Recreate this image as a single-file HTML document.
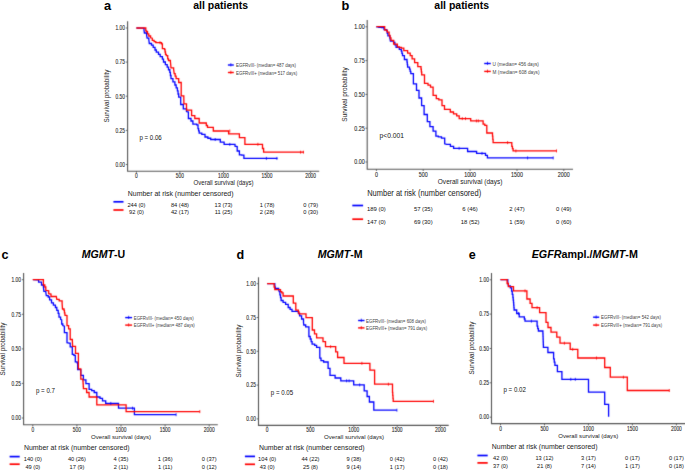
<!DOCTYPE html>
<html><head><meta charset="utf-8"><style>
html,body{margin:0;padding:0;background:#fff;width:685px;height:470px;overflow:hidden}
svg{display:block;font-family:"Liberation Sans", sans-serif}
</style></head><body>
<svg width="685" height="470" viewBox="0 0 685 470">
<defs><filter id="bl" x="0" y="0" width="1" height="1" color-interpolation-filters="sRGB"><feConvolveMatrix order="3" kernelMatrix="0.0133 0.0888 0.0133 0.0888 0.5917 0.0888 0.0133 0.0888 0.0133" edgeMode="duplicate" preserveAlpha="true"/></filter></defs>
<g filter="url(#bl)">
<rect width="685" height="470" fill="#fff"/>
<path d="M127.6,21.3 V171.3 H319.2" fill="none" stroke="#555" stroke-width="1.1"/>
<line x1="125.8" y1="164.5" x2="127.6" y2="164.5" stroke="#555" stroke-width="0.9"/>
<line x1="125.8" y1="130.4" x2="127.6" y2="130.4" stroke="#555" stroke-width="0.9"/>
<line x1="125.8" y1="96.2" x2="127.6" y2="96.2" stroke="#555" stroke-width="0.9"/>
<line x1="125.8" y1="62.1" x2="127.6" y2="62.1" stroke="#555" stroke-width="0.9"/>
<line x1="125.8" y1="28.0" x2="127.6" y2="28.0" stroke="#555" stroke-width="0.9"/>
<line x1="136.4" y1="171.3" x2="136.4" y2="173.10000000000002" stroke="#555" stroke-width="0.9"/>
<line x1="179.9" y1="171.3" x2="179.9" y2="173.10000000000002" stroke="#555" stroke-width="0.9"/>
<line x1="223.5" y1="171.3" x2="223.5" y2="173.10000000000002" stroke="#555" stroke-width="0.9"/>
<line x1="267.0" y1="171.3" x2="267.0" y2="173.10000000000002" stroke="#555" stroke-width="0.9"/>
<line x1="310.6" y1="171.3" x2="310.6" y2="173.10000000000002" stroke="#555" stroke-width="0.9"/>
<path d="M136.50,28.00 L140.90,28.20 L144.00,28.20 L144.00,30.30 L144.40,33.00 L146.60,33.00 L146.60,35.10 L147.10,38.20 L148.80,38.20 L148.80,39.50 L149.30,43.50 L151.50,43.50 L151.50,45.20 L153.20,45.20 L153.20,47.40 L155.00,47.40 L155.00,50.00 L156.30,50.00 L156.30,52.20 L158.50,52.20 L158.50,54.40 L160.20,54.40 L160.20,56.60 L162.40,56.60 L162.40,59.20 L163.50,59.20 L163.50,62.00 L165.35,62.00 L165.35,64.60 L167.20,64.60 L167.20,67.20 L168.50,67.20 L168.50,69.75 L169.80,69.75 L169.80,72.30 L170.40,72.30 L170.40,75.50 L171.00,75.50 L171.00,78.70 L172.95,78.70 L172.95,81.85 L174.90,81.85 L174.90,85.00 L176.15,85.00 L176.15,87.90 L177.40,87.90 L177.40,90.80 L178.05,90.80 L178.05,94.00 L178.70,94.00 L178.70,97.20 L180.70,97.20 L180.70,100.00 L180.70,104.50 L183.30,104.50 L183.30,105.70 L183.30,108.90 L186.50,108.90 L186.50,111.50 L188.40,112.10 L188.40,118.50 L191.00,118.50 L191.00,121.00 L192.90,121.00 L192.90,124.20 L196.70,124.20 L196.70,124.90 L198.00,124.90 L198.00,128.70 L198.60,128.70 L198.60,130.95 L199.20,130.95 L199.20,133.20 L201.80,133.20 L201.80,134.40 L205.00,134.40 L205.00,137.00 L207.85,137.00 L207.85,138.25 L210.70,138.25 L210.70,139.50 L216.50,139.50 L220.30,139.50 L220.30,142.10 L224.10,142.10 L224.10,144.40 L233.70,144.40 L235.00,144.40 L235.00,146.20 L237.20,146.60 L237.20,151.00 L239.40,151.00 L239.40,151.70 L239.40,154.80 L241.65,154.80 L241.65,155.15 L243.90,155.15 L243.90,155.50 L243.90,158.40 L277.50,158.40" fill="none" stroke="#0000ff" stroke-width="1.3" stroke-linejoin="miter"/>
<path d="M136.30,28.00 L142.70,28.00 L145.80,28.00 L145.80,30.80 L146.60,30.80 L146.60,31.60 L147.50,31.60 L147.50,33.80 L148.80,33.80 L148.80,36.00 L150.60,36.00 L150.60,37.80 L152.30,38.20 L152.30,40.40 L154.10,40.40 L154.10,41.70 L155.80,41.70 L155.80,42.60 L160.20,42.60 L161.50,42.60 L161.50,43.90 L162.40,43.90 L162.40,44.80 L162.40,48.70 L164.60,48.70 L164.60,49.60 L165.05,49.60 L165.05,52.00 L165.50,52.00 L165.50,54.40 L166.30,54.40 L166.30,55.70 L167.70,55.70 L167.70,58.80 L168.50,58.80 L168.50,60.50 L170.40,60.50 L170.40,61.50 L171.00,67.90 L173.60,67.90 L173.60,69.10 L174.20,73.60 L175.15,73.60 L175.15,76.15 L176.10,76.15 L176.10,78.70 L178.70,78.70 L178.70,82.50 L181.20,82.50 L181.20,83.20 L181.20,95.90 L183.80,95.90 L183.80,96.60 L183.90,103.80 L186.50,103.80 L186.50,110.20 L189.00,110.20 L191.60,110.20 L191.60,112.10 L191.60,115.60 L194.80,115.60 L194.80,118.50 L199.20,118.50 L199.20,123.00 L205.00,123.00 L206.30,123.00 L206.30,125.50 L207.50,125.50 L207.50,127.40 L213.30,127.40 L213.30,131.00 L228.60,131.00 L228.60,133.80 L239.40,133.80 L239.40,137.60 L244.90,137.60 L244.90,144.30 L262.50,144.30 L262.50,148.50 L263.60,148.50 L263.60,152.20 L304.00,152.20" fill="none" stroke="#ff0000" stroke-width="1.3" stroke-linejoin="miter"/>
<line x1="215.2" y1="138.0" x2="215.2" y2="141.0" stroke="#0000ff" stroke-width="0.8"/>
<line x1="229.8" y1="142.9" x2="229.8" y2="145.9" stroke="#0000ff" stroke-width="0.8"/>
<line x1="266.4" y1="156.9" x2="266.4" y2="159.9" stroke="#0000ff" stroke-width="0.8"/>
<line x1="276.9" y1="156.9" x2="276.9" y2="159.9" stroke="#0000ff" stroke-width="0.8"/>
<line x1="160" y1="41.1" x2="160" y2="44.1" stroke="#ff0000" stroke-width="0.8"/>
<line x1="229.8" y1="129.5" x2="229.8" y2="132.5" stroke="#ff0000" stroke-width="0.8"/>
<line x1="257.9" y1="142.8" x2="257.9" y2="145.8" stroke="#ff0000" stroke-width="0.8"/>
<line x1="300.6" y1="150.7" x2="300.6" y2="153.7" stroke="#ff0000" stroke-width="0.8"/>
<line x1="303.4" y1="150.7" x2="303.4" y2="153.7" stroke="#ff0000" stroke-width="0.8"/>
<line x1="227.9" y1="65.00" x2="233.8" y2="65.00" stroke="#0000ff" stroke-width="1.4"/>
<line x1="230.85000000000002" y1="63.20" x2="230.85000000000002" y2="66.40" stroke="#0000ff" stroke-width="0.8"/>
<line x1="227.9" y1="72.50" x2="233.8" y2="72.50" stroke="#ff0000" stroke-width="1.4"/>
<line x1="230.85000000000002" y1="70.70" x2="230.85000000000002" y2="73.90" stroke="#ff0000" stroke-width="0.8"/>
<line x1="113.4" y1="201.8" x2="123.5" y2="201.8" stroke="#0000ff" stroke-width="1.7"/>
<line x1="113.4" y1="210" x2="123.5" y2="210" stroke="#ff0000" stroke-width="1.7"/>
<path d="M367.2,20.1 V169.2 H573" fill="none" stroke="#555" stroke-width="1.1"/>
<line x1="365.4" y1="162.0" x2="367.2" y2="162.0" stroke="#555" stroke-width="0.9"/>
<line x1="365.4" y1="128.2" x2="367.2" y2="128.2" stroke="#555" stroke-width="0.9"/>
<line x1="365.4" y1="94.4" x2="367.2" y2="94.4" stroke="#555" stroke-width="0.9"/>
<line x1="365.4" y1="60.6" x2="367.2" y2="60.6" stroke="#555" stroke-width="0.9"/>
<line x1="365.4" y1="26.8" x2="367.2" y2="26.8" stroke="#555" stroke-width="0.9"/>
<line x1="376.4" y1="169.2" x2="376.4" y2="171.0" stroke="#555" stroke-width="0.9"/>
<line x1="423.2" y1="169.2" x2="423.2" y2="171.0" stroke="#555" stroke-width="0.9"/>
<line x1="470.1" y1="169.2" x2="470.1" y2="171.0" stroke="#555" stroke-width="0.9"/>
<line x1="517.0" y1="169.2" x2="517.0" y2="171.0" stroke="#555" stroke-width="0.9"/>
<line x1="563.8" y1="169.2" x2="563.8" y2="171.0" stroke="#555" stroke-width="0.9"/>
<path d="M376.20,26.80 L378.85,26.80 L378.85,27.25 L381.50,27.25 L381.50,27.70 L384.00,27.70 L384.00,29.60 L386.60,29.60 L386.60,30.80 L387.25,30.80 L387.25,33.35 L387.90,33.35 L387.90,35.90 L389.80,35.90 L389.80,37.90 L390.40,41.00 L393.60,41.00 L393.60,42.30 L394.85,42.30 L394.85,44.85 L396.10,44.85 L396.10,47.40 L399.30,47.40 L399.30,49.30 L401.30,49.30 L401.30,51.20 L401.90,51.20 L401.90,53.45 L402.50,53.45 L402.50,55.70 L404.40,55.70 L404.40,59.50 L407.00,59.50 L407.00,62.10 L407.30,62.10 L407.30,64.65 L407.60,64.65 L407.60,67.20 L409.50,67.20 L409.50,69.10 L410.15,69.10 L410.15,71.35 L410.80,71.35 L410.80,73.60 L413.40,73.60 L413.40,74.80 L413.40,83.90 L416.50,83.90 L416.50,84.60 L416.50,90.30 L419.00,90.30 L419.00,91.60 L419.00,98.00 L421.60,98.00 L421.60,99.20 L421.60,105.60 L424.10,105.60 L424.10,106.90 L424.10,114.50 L427.30,114.50 L427.30,121.60 L429.90,121.60 L429.90,126.70 L433.10,126.70 L433.10,131.10 L435.90,131.10 L435.90,131.80 L435.90,136.10 L438.30,136.10 L438.30,136.80 L441.50,136.80 L441.50,138.10 L444.70,138.10 L444.70,139.30 L444.70,143.80 L446.60,144.40 L450.40,144.40 L450.40,146.40 L453.60,146.40 L453.60,148.30 L463.80,148.30 L467.60,148.30 L467.60,151.50 L475.30,151.50 L476.60,151.50 L476.60,153.40 L483.60,153.40 L485.50,153.40 L485.50,155.30 L487.40,155.30 L487.40,157.90 L553.20,157.90" fill="none" stroke="#0000ff" stroke-width="1.3" stroke-linejoin="miter"/>
<path d="M376.40,26.60 L383.40,26.60 L384.70,26.60 L384.70,30.20 L387.20,30.20 L387.20,32.10 L389.10,32.10 L389.10,35.30 L390.05,35.30 L390.05,37.85 L391.00,37.85 L391.00,40.40 L393.60,40.40 L393.60,44.20 L397.40,44.20 L397.40,46.80 L399.35,46.80 L399.35,47.45 L401.30,47.45 L401.30,48.10 L403.80,48.10 L403.80,50.60 L407.60,50.60 L407.60,53.20 L410.20,53.20 L410.20,55.70 L412.10,55.70 L412.10,58.90 L414.60,58.90 L414.60,62.70 L417.80,62.70 L417.80,66.60 L421.00,66.60 L421.00,69.10 L421.35,69.10 L421.35,71.95 L421.70,71.95 L421.70,74.80 L424.50,74.80 L424.50,76.10 L424.50,83.30 L428.00,83.30 L428.00,85.20 L430.50,85.20 L430.50,87.10 L433.10,87.10 L433.10,88.40 L433.10,95.40 L436.30,95.40 L436.30,98.60 L438.80,98.60 L438.80,99.90 L442.00,99.90 L442.00,101.10 L442.00,105.60 L444.50,105.60 L444.50,109.40 L449.60,109.40 L450.30,109.40 L450.30,112.00 L453.50,112.00 L453.50,113.90 L456.70,113.90 L456.70,115.80 L459.20,115.80 L459.20,118.60 L470.00,118.60 L470.70,118.60 L470.70,120.90 L481.50,120.90 L483.10,120.90 L483.10,124.10 L484.80,124.10 L484.80,125.30 L486.80,125.30 L486.80,127.20 L486.80,133.00 L491.20,133.00 L492.50,133.00 L492.50,136.10 L492.80,136.10 L492.80,139.35 L493.10,139.35 L493.10,142.60 L511.80,142.60 L511.80,146.30 L512.45,146.30 L512.45,148.60 L513.10,148.60 L513.10,150.90 L556.50,150.90" fill="none" stroke="#ff0000" stroke-width="1.3" stroke-linejoin="miter"/>
<line x1="459.1" y1="146.8" x2="459.1" y2="149.8" stroke="#0000ff" stroke-width="0.8"/>
<line x1="482" y1="151.9" x2="482" y2="154.9" stroke="#0000ff" stroke-width="0.8"/>
<line x1="527.6" y1="156.4" x2="527.6" y2="159.4" stroke="#0000ff" stroke-width="0.8"/>
<line x1="553.2" y1="156.4" x2="553.2" y2="159.4" stroke="#0000ff" stroke-width="0.8"/>
<line x1="462.3" y1="117.1" x2="462.3" y2="120.1" stroke="#ff0000" stroke-width="0.8"/>
<line x1="465.5" y1="117.1" x2="465.5" y2="120.1" stroke="#ff0000" stroke-width="0.8"/>
<line x1="476.4" y1="119.4" x2="476.4" y2="122.4" stroke="#ff0000" stroke-width="0.8"/>
<line x1="478.3" y1="119.4" x2="478.3" y2="122.4" stroke="#ff0000" stroke-width="0.8"/>
<line x1="507.6" y1="141.1" x2="507.6" y2="144.1" stroke="#ff0000" stroke-width="0.8"/>
<line x1="515.9" y1="149.4" x2="515.9" y2="152.4" stroke="#ff0000" stroke-width="0.8"/>
<line x1="556.5" y1="149.4" x2="556.5" y2="152.4" stroke="#ff0000" stroke-width="0.8"/>
<line x1="484.2" y1="63.50" x2="490.8" y2="63.50" stroke="#0000ff" stroke-width="1.4"/>
<line x1="487.5" y1="61.70" x2="487.5" y2="64.90" stroke="#0000ff" stroke-width="0.8"/>
<line x1="484.2" y1="71.40" x2="490.8" y2="71.40" stroke="#ff0000" stroke-width="1.4"/>
<line x1="487.5" y1="69.60" x2="487.5" y2="72.80" stroke="#ff0000" stroke-width="0.8"/>
<line x1="352.3" y1="205.5" x2="363.1" y2="205.5" stroke="#0000ff" stroke-width="1.7"/>
<line x1="352.3" y1="219.2" x2="363.1" y2="219.2" stroke="#ff0000" stroke-width="1.7"/>
<path d="M23.6,273 V424.8 H217.8" fill="none" stroke="#555" stroke-width="1.1"/>
<line x1="21.8" y1="418.0" x2="23.6" y2="418.0" stroke="#555" stroke-width="0.9"/>
<line x1="21.8" y1="383.4" x2="23.6" y2="383.4" stroke="#555" stroke-width="0.9"/>
<line x1="21.8" y1="348.9" x2="23.6" y2="348.9" stroke="#555" stroke-width="0.9"/>
<line x1="21.8" y1="314.3" x2="23.6" y2="314.3" stroke="#555" stroke-width="0.9"/>
<line x1="21.8" y1="279.7" x2="23.6" y2="279.7" stroke="#555" stroke-width="0.9"/>
<line x1="32.8" y1="424.8" x2="32.8" y2="426.6" stroke="#555" stroke-width="0.9"/>
<line x1="76.9" y1="424.8" x2="76.9" y2="426.6" stroke="#555" stroke-width="0.9"/>
<line x1="121.0" y1="424.8" x2="121.0" y2="426.6" stroke="#555" stroke-width="0.9"/>
<line x1="165.1" y1="424.8" x2="165.1" y2="426.6" stroke="#555" stroke-width="0.9"/>
<line x1="209.2" y1="424.8" x2="209.2" y2="426.6" stroke="#555" stroke-width="0.9"/>
<path d="M32.90,279.70 L36.70,279.80 L38.60,279.80 L38.60,282.20 L41.50,282.20 L41.50,285.00 L43.40,285.00 L43.40,287.00 L43.90,291.30 L45.80,291.30 L45.80,292.20 L46.30,295.60 L48.20,295.60 L48.20,297.00 L49.60,297.00 L49.60,299.90 L51.50,299.90 L51.50,302.80 L53.40,302.80 L53.40,305.10 L55.40,305.10 L55.40,307.50 L56.80,307.50 L56.80,310.40 L58.20,310.40 L58.20,313.30 L59.00,313.30 L59.00,315.00 L59.00,317.10 L60.60,317.10 L60.60,319.30 L61.70,319.80 L61.70,324.00 L62.80,324.00 L62.80,325.60 L64.40,326.20 L64.40,332.60 L67.00,332.60 L67.00,333.60 L67.00,342.70 L69.10,343.20 L70.20,343.20 L70.20,346.90 L72.30,346.90 L72.30,348.00 L72.30,354.40 L73.90,354.40 L73.90,355.40 L75.30,355.40 L75.30,356.50 L75.30,361.80 L77.10,361.80 L77.10,362.90 L77.70,362.90 L77.70,363.80 L77.70,369.60 L80.80,369.60 L80.80,375.30 L83.40,375.30 L83.40,379.80 L85.90,379.80 L85.90,383.60 L89.10,383.60 L89.10,389.30 L91.70,389.30 L91.70,390.60 L94.20,390.60 L94.20,392.50 L96.80,392.50 L96.80,393.80 L96.80,397.00 L100.00,397.00 L100.00,398.30 L102.50,398.30 L102.50,400.80 L105.70,400.80 L105.70,403.40 L115.30,403.40 L118.50,403.40 L118.50,405.30 L118.50,408.20 L134.40,408.20 L134.40,414.70 L176.10,414.70" fill="none" stroke="#0000ff" stroke-width="1.3" stroke-linejoin="miter"/>
<path d="M32.70,279.70 L43.40,279.70 L43.40,285.00 L44.80,285.00 L44.80,287.00 L45.80,287.00 L45.80,290.30 L48.70,290.80 L48.70,293.70 L51.00,294.10 L51.00,296.50 L56.30,296.50 L56.80,299.40 L59.20,299.40 L59.20,300.80 L62.10,300.80 L62.10,303.50 L62.50,309.00 L64.00,309.00 L64.00,310.40 L64.45,310.40 L64.45,312.80 L64.90,312.80 L64.90,315.20 L67.00,315.50 L67.00,325.60 L68.60,325.60 L68.60,328.80 L70.20,328.80 L70.20,339.50 L72.30,339.50 L72.60,346.40 L75.50,346.40 L75.50,353.30 L78.40,353.30 L78.40,368.90 L80.80,368.90 L80.80,379.10 L82.80,379.10 L82.95,379.10 L82.95,381.50 L83.10,381.50 L83.10,383.90 L83.25,383.90 L83.25,386.30 L83.40,386.30 L83.40,388.70 L85.90,388.70 L86.60,388.70 L86.60,392.50 L89.10,392.50 L89.10,393.20 L89.10,397.00 L96.80,397.00 L96.80,404.90 L126.10,404.90 L126.10,411.60 L199.80,411.60" fill="none" stroke="#ff0000" stroke-width="1.3" stroke-linejoin="miter"/>
<line x1="110.8" y1="401.9" x2="110.8" y2="404.9" stroke="#0000ff" stroke-width="0.8"/>
<line x1="132.5" y1="406.7" x2="132.5" y2="409.7" stroke="#0000ff" stroke-width="0.8"/>
<line x1="176.1" y1="413.2" x2="176.1" y2="416.2" stroke="#0000ff" stroke-width="0.8"/>
<line x1="199.8" y1="410.1" x2="199.8" y2="413.1" stroke="#ff0000" stroke-width="0.8"/>
<line x1="125.2" y1="317.60" x2="132.1" y2="317.60" stroke="#0000ff" stroke-width="1.4"/>
<line x1="128.65" y1="315.80" x2="128.65" y2="319.00" stroke="#0000ff" stroke-width="0.8"/>
<line x1="125.2" y1="325.10" x2="132.1" y2="325.10" stroke="#ff0000" stroke-width="1.4"/>
<line x1="128.65" y1="323.30" x2="128.65" y2="326.50" stroke="#ff0000" stroke-width="0.8"/>
<line x1="9.6" y1="456.6" x2="19.7" y2="456.6" stroke="#0000ff" stroke-width="1.7"/>
<line x1="9.6" y1="464.2" x2="19.7" y2="464.2" stroke="#ff0000" stroke-width="1.7"/>
<path d="M258.5,277.3 V425.4 H448.7" fill="none" stroke="#555" stroke-width="1.1"/>
<line x1="256.7" y1="418.9" x2="258.5" y2="418.9" stroke="#555" stroke-width="0.9"/>
<line x1="256.7" y1="385.1" x2="258.5" y2="385.1" stroke="#555" stroke-width="0.9"/>
<line x1="256.7" y1="351.3" x2="258.5" y2="351.3" stroke="#555" stroke-width="0.9"/>
<line x1="256.7" y1="317.5" x2="258.5" y2="317.5" stroke="#555" stroke-width="0.9"/>
<line x1="256.7" y1="283.7" x2="258.5" y2="283.7" stroke="#555" stroke-width="0.9"/>
<line x1="267.1" y1="425.4" x2="267.1" y2="427.2" stroke="#555" stroke-width="0.9"/>
<line x1="310.5" y1="425.4" x2="310.5" y2="427.2" stroke="#555" stroke-width="0.9"/>
<line x1="353.8" y1="425.4" x2="353.8" y2="427.2" stroke="#555" stroke-width="0.9"/>
<line x1="397.2" y1="425.4" x2="397.2" y2="427.2" stroke="#555" stroke-width="0.9"/>
<line x1="440.5" y1="425.4" x2="440.5" y2="427.2" stroke="#555" stroke-width="0.9"/>
<path d="M267.10,283.70 L272.90,283.70 L274.80,283.70 L274.80,285.20 L275.40,288.40 L278.60,288.40 L278.60,289.70 L279.20,291.60 L279.90,291.60 L279.90,294.80 L280.50,294.80 L280.50,297.65 L281.10,297.65 L281.10,300.50 L283.10,300.50 L283.10,302.40 L285.60,302.40 L285.60,304.30 L288.20,304.30 L288.20,307.50 L290.10,307.50 L290.10,309.40 L292.00,309.40 L292.00,311.40 L296.50,311.40 L298.40,311.40 L298.40,313.30 L299.60,313.30 L299.60,315.80 L301.60,315.80 L301.60,319.00 L303.50,319.00 L303.50,322.80 L303.80,325.00 L305.70,325.00 L305.70,326.90 L308.90,326.90 L308.90,328.80 L308.90,336.50 L310.20,336.50 L310.20,339.00 L311.15,339.00 L311.15,341.55 L312.10,341.55 L312.10,344.10 L314.70,344.10 L314.70,345.40 L316.60,345.40 L316.60,347.30 L319.80,347.30 L319.80,348.60 L319.80,358.20 L321.00,358.20 L321.00,360.70 L323.60,360.70 L323.60,362.00 L328.10,362.00 L328.10,368.40 L330.00,368.40 L330.00,370.90 L330.00,375.40 L335.10,375.40 L335.10,378.00 L340.80,378.00 L340.80,380.80 L353.70,380.80 L353.70,384.90 L364.20,384.90 L364.20,390.90 L367.10,390.90 L367.10,396.50 L369.40,396.50 L369.40,402.00 L373.80,402.00 L373.80,410.20 L396.90,410.20" fill="none" stroke="#0000ff" stroke-width="1.3" stroke-linejoin="miter"/>
<path d="M267.10,283.70 L273.50,283.70 L274.10,283.70 L274.10,287.10 L274.80,287.10 L274.80,289.70 L279.20,289.70 L280.50,289.70 L280.50,291.60 L281.80,291.60 L281.80,292.90 L283.10,292.90 L283.10,293.50 L283.10,296.00 L293.30,296.00 L293.30,303.10 L295.80,303.10 L295.80,310.10 L298.40,310.10 L298.40,312.00 L299.00,312.00 L299.00,313.90 L306.00,313.90 L306.00,317.70 L312.30,317.70 L312.30,330.00 L314.50,330.00 L314.50,333.90 L316.60,333.90 L316.60,337.80 L323.00,337.80 L323.00,341.60 L325.50,341.60 L325.50,346.70 L335.70,346.70 L335.70,351.80 L337.60,351.80 L337.60,357.50 L344.00,357.50 L344.00,363.30 L369.90,363.30 L369.90,370.20 L374.60,370.20 L374.60,384.20 L392.50,384.20 L392.50,392.40 L392.73,392.40 L392.73,395.37 L392.97,395.37 L392.97,398.33 L393.20,398.33 L393.20,401.30 L433.50,401.30" fill="none" stroke="#ff0000" stroke-width="1.3" stroke-linejoin="miter"/>
<line x1="346.6" y1="379.3" x2="346.6" y2="382.3" stroke="#0000ff" stroke-width="0.8"/>
<line x1="349.1" y1="379.3" x2="349.1" y2="382.3" stroke="#0000ff" stroke-width="0.8"/>
<line x1="359.7" y1="383.4" x2="359.7" y2="386.4" stroke="#0000ff" stroke-width="0.8"/>
<line x1="396.9" y1="408.7" x2="396.9" y2="411.7" stroke="#0000ff" stroke-width="0.8"/>
<line x1="330.6" y1="345.2" x2="330.6" y2="348.2" stroke="#ff0000" stroke-width="0.8"/>
<line x1="361.9" y1="361.8" x2="361.9" y2="364.8" stroke="#ff0000" stroke-width="0.8"/>
<line x1="388.4" y1="382.7" x2="388.4" y2="385.7" stroke="#ff0000" stroke-width="0.8"/>
<line x1="433.5" y1="399.8" x2="433.5" y2="402.8" stroke="#ff0000" stroke-width="0.8"/>
<line x1="358.1" y1="320.50" x2="364.5" y2="320.50" stroke="#0000ff" stroke-width="1.4"/>
<line x1="361.3" y1="318.70" x2="361.3" y2="321.90" stroke="#0000ff" stroke-width="0.8"/>
<line x1="358.1" y1="327.90" x2="364.5" y2="327.90" stroke="#ff0000" stroke-width="1.4"/>
<line x1="361.3" y1="326.10" x2="361.3" y2="329.30" stroke="#ff0000" stroke-width="0.8"/>
<line x1="244.9" y1="456.4" x2="255" y2="456.4" stroke="#0000ff" stroke-width="1.7"/>
<line x1="244.9" y1="464.3" x2="255" y2="464.3" stroke="#ff0000" stroke-width="1.7"/>
<path d="M491.5,272.9 V423.6 H685" fill="none" stroke="#555" stroke-width="1.1"/>
<line x1="489.7" y1="417.2" x2="491.5" y2="417.2" stroke="#555" stroke-width="0.9"/>
<line x1="489.7" y1="382.8" x2="491.5" y2="382.8" stroke="#555" stroke-width="0.9"/>
<line x1="489.7" y1="348.5" x2="491.5" y2="348.5" stroke="#555" stroke-width="0.9"/>
<line x1="489.7" y1="314.1" x2="491.5" y2="314.1" stroke="#555" stroke-width="0.9"/>
<line x1="489.7" y1="279.8" x2="491.5" y2="279.8" stroke="#555" stroke-width="0.9"/>
<line x1="500.5" y1="423.6" x2="500.5" y2="425.40000000000003" stroke="#555" stroke-width="0.9"/>
<line x1="544.5" y1="423.6" x2="544.5" y2="425.40000000000003" stroke="#555" stroke-width="0.9"/>
<line x1="588.4" y1="423.6" x2="588.4" y2="425.40000000000003" stroke="#555" stroke-width="0.9"/>
<line x1="632.4" y1="423.6" x2="632.4" y2="425.40000000000003" stroke="#555" stroke-width="0.9"/>
<line x1="676.4" y1="423.6" x2="676.4" y2="425.40000000000003" stroke="#555" stroke-width="0.9"/>
<path d="M500.50,279.70 L507.10,279.70 L507.80,279.70 L507.80,282.20 L508.40,286.00 L510.30,286.00 L510.30,287.90 L511.60,287.90 L511.60,291.10 L512.25,291.10 L512.25,294.30 L512.90,294.30 L512.90,297.50 L513.20,297.50 L513.20,300.05 L513.50,300.05 L513.50,302.60 L513.70,302.60 L513.70,305.07 L513.90,305.07 L513.90,307.53 L514.10,307.53 L514.10,310.00 L516.00,310.00 L516.70,310.00 L516.70,313.50 L518.60,313.50 L519.20,313.50 L519.20,316.90 L523.70,316.90 L524.35,316.90 L524.35,319.00 L525.00,319.00 L525.00,321.10 L537.10,321.10 L537.10,326.20 L537.75,326.20 L537.75,328.60 L538.40,328.60 L538.40,331.00 L542.80,331.00 L542.90,331.00 L542.90,333.73 L543.00,333.73 L543.00,336.47 L543.10,336.47 L543.10,339.20 L543.20,339.20 L543.20,341.93 L543.30,341.93 L543.30,344.67 L543.40,344.67 L543.40,347.40 L547.90,347.40 L547.90,352.50 L553.60,352.50 L553.60,358.90 L554.25,358.90 L554.25,362.10 L554.90,362.10 L554.90,365.30 L557.40,365.30 L557.40,371.70 L561.90,371.70 L561.90,379.30 L588.50,379.30 L588.50,392.20 L604.70,392.20 L604.70,404.40 L608.60,404.40 L608.60,416.80" fill="none" stroke="#0000ff" stroke-width="1.3" stroke-linejoin="miter"/>
<path d="M500.40,279.70 L507.10,279.70 L507.10,283.50 L508.40,283.50 L508.40,286.70 L512.20,286.70 L513.50,286.70 L513.50,287.90 L513.50,290.90 L526.90,290.90 L526.90,299.00 L530.10,299.00 L530.10,303.30 L532.00,303.30 L532.00,307.70 L539.60,307.70 L539.60,312.60 L546.00,312.60 L546.00,322.40 L548.00,322.40 L548.00,327.50 L551.00,327.50 L551.00,332.10 L556.80,332.10 L556.80,337.20 L560.00,337.20 L560.00,339.10 L560.00,343.20 L570.20,343.20 L570.20,349.30 L577.80,349.30 L577.80,358.00 L604.70,358.00 L604.70,367.50 L610.30,367.50 L610.30,377.20 L627.30,377.20 L627.30,390.50 L669.30,390.50" fill="none" stroke="#ff0000" stroke-width="1.3" stroke-linejoin="miter"/>
<line x1="518.6" y1="312.0" x2="518.6" y2="315.0" stroke="#0000ff" stroke-width="0.8"/>
<line x1="531.4" y1="319.6" x2="531.4" y2="322.6" stroke="#0000ff" stroke-width="0.8"/>
<line x1="570.8" y1="377.8" x2="570.8" y2="380.8" stroke="#0000ff" stroke-width="0.8"/>
<line x1="575.3" y1="377.8" x2="575.3" y2="380.8" stroke="#0000ff" stroke-width="0.8"/>
<line x1="525" y1="289.4" x2="525" y2="292.4" stroke="#ff0000" stroke-width="0.8"/>
<line x1="537.1" y1="306.2" x2="537.1" y2="309.2" stroke="#ff0000" stroke-width="0.8"/>
<line x1="564.4" y1="341.7" x2="564.4" y2="344.7" stroke="#ff0000" stroke-width="0.8"/>
<line x1="572.7" y1="347.8" x2="572.7" y2="350.8" stroke="#ff0000" stroke-width="0.8"/>
<line x1="596.5" y1="356.5" x2="596.5" y2="359.5" stroke="#ff0000" stroke-width="0.8"/>
<line x1="623.4" y1="375.7" x2="623.4" y2="378.7" stroke="#ff0000" stroke-width="0.8"/>
<line x1="669.3" y1="389.0" x2="669.3" y2="392.0" stroke="#ff0000" stroke-width="0.8"/>
<line x1="593.1" y1="317.20" x2="599.2" y2="317.20" stroke="#0000ff" stroke-width="1.4"/>
<line x1="596.1500000000001" y1="315.40" x2="596.1500000000001" y2="318.60" stroke="#0000ff" stroke-width="0.8"/>
<line x1="593.1" y1="325.10" x2="599.2" y2="325.10" stroke="#ff0000" stroke-width="1.4"/>
<line x1="596.1500000000001" y1="323.30" x2="596.1500000000001" y2="326.50" stroke="#ff0000" stroke-width="0.8"/>
<line x1="477.4" y1="455.5" x2="487.7" y2="455.5" stroke="#0000ff" stroke-width="1.7"/>
<line x1="477.4" y1="462.9" x2="487.7" y2="462.9" stroke="#ff0000" stroke-width="1.7"/>
</g>
<text transform="translate(125.00,166.78) scale(1,1.3)" font-size="4.9" text-anchor="end" fill="#333" stroke="#333" stroke-width="0.1" font-weight="normal" font-style="normal" >0.00</text>
<text transform="translate(125.00,132.66) scale(1,1.3)" font-size="4.9" text-anchor="end" fill="#333" stroke="#333" stroke-width="0.1" font-weight="normal" font-style="normal" >0.25</text>
<text transform="translate(125.00,98.53) scale(1,1.3)" font-size="4.9" text-anchor="end" fill="#333" stroke="#333" stroke-width="0.1" font-weight="normal" font-style="normal" >0.50</text>
<text transform="translate(125.00,64.41) scale(1,1.3)" font-size="4.9" text-anchor="end" fill="#333" stroke="#333" stroke-width="0.1" font-weight="normal" font-style="normal" >0.75</text>
<text transform="translate(125.00,30.28) scale(1,1.3)" font-size="4.9" text-anchor="end" fill="#333" stroke="#333" stroke-width="0.1" font-weight="normal" font-style="normal" >1.00</text>
<text transform="translate(136.40,177.58) scale(1,1.3)" font-size="4.9" text-anchor="middle" fill="#333" stroke="#333" stroke-width="0.1" font-weight="normal" font-style="normal" >0</text>
<text transform="translate(179.95,177.58) scale(1,1.3)" font-size="4.9" text-anchor="middle" fill="#333" stroke="#333" stroke-width="0.1" font-weight="normal" font-style="normal" >500</text>
<text transform="translate(223.50,177.58) scale(1,1.3)" font-size="4.9" text-anchor="middle" fill="#333" stroke="#333" stroke-width="0.1" font-weight="normal" font-style="normal" >1000</text>
<text transform="translate(267.05,177.58) scale(1,1.3)" font-size="4.9" text-anchor="middle" fill="#333" stroke="#333" stroke-width="0.1" font-weight="normal" font-style="normal" >1500</text>
<text transform="translate(310.60,177.58) scale(1,1.3)" font-size="4.9" text-anchor="middle" fill="#333" stroke="#333" stroke-width="0.1" font-weight="normal" font-style="normal" >2000</text>
<text transform="translate(223.50,184.69) scale(1,1.1)" font-size="6.07" text-anchor="middle" fill="#222" font-weight="normal" font-style="normal" >Overall survival (days)</text>
<text transform="translate(109.2,96.0) rotate(-90) scale(1,1.1)" font-size="6.31" text-anchor="middle" fill="#222">Survival probability</text>
<text transform="translate(139.40,139.82) scale(1,1.1)" font-size="6.15" text-anchor="start" fill="#111" font-weight="normal" font-style="normal" >p = 0.06</text>
<text transform="translate(236.00,67.24) scale(1,1.1)" font-size="4.43" text-anchor="start" fill="#444" font-weight="normal" font-style="normal" >EGFRvIII- (median= 487 days)</text>
<text transform="translate(236.00,74.74) scale(1,1.1)" font-size="4.43" text-anchor="start" fill="#444" font-weight="normal" font-style="normal" >EGFRvIII+ (median= 517 days)</text>
<text transform="translate(103.90,9.70) scale(1,1.05)" font-size="12.8" text-anchor="start" fill="#000" font-weight="bold" font-style="normal" >a</text>
<text transform="translate(220.60,9.30) scale(1,0.97)" font-size="10.5" text-anchor="middle" fill="#000" font-weight="bold" font-style="normal" >all patients</text>
<text transform="translate(127.80,196.24) scale(1,1.1)" font-size="6.96" text-anchor="start" fill="#222" font-weight="normal" font-style="normal" >Number at risk (number censored)</text>
<text transform="translate(136.40,206.84) scale(1,1.0)" font-size="5.7" text-anchor="middle" fill="#111" font-weight="normal" font-style="normal" >244 (0)</text>
<text transform="translate(179.95,206.84) scale(1,1.0)" font-size="5.7" text-anchor="middle" fill="#111" font-weight="normal" font-style="normal" >84 (48)</text>
<text transform="translate(223.50,206.84) scale(1,1.0)" font-size="5.7" text-anchor="middle" fill="#111" font-weight="normal" font-style="normal" >13 (73)</text>
<text transform="translate(267.05,206.84) scale(1,1.0)" font-size="5.7" text-anchor="middle" fill="#111" font-weight="normal" font-style="normal" >1 (78)</text>
<text transform="translate(310.60,206.84) scale(1,1.0)" font-size="5.7" text-anchor="middle" fill="#111" font-weight="normal" font-style="normal" >0 (79)</text>
<text transform="translate(136.40,214.34) scale(1,1.0)" font-size="5.7" text-anchor="middle" fill="#111" font-weight="normal" font-style="normal" >92 (0)</text>
<text transform="translate(179.95,214.34) scale(1,1.0)" font-size="5.7" text-anchor="middle" fill="#111" font-weight="normal" font-style="normal" >42 (17)</text>
<text transform="translate(223.50,214.34) scale(1,1.0)" font-size="5.7" text-anchor="middle" fill="#111" font-weight="normal" font-style="normal" >11 (25)</text>
<text transform="translate(267.05,214.34) scale(1,1.0)" font-size="5.7" text-anchor="middle" fill="#111" font-weight="normal" font-style="normal" >2 (28)</text>
<text transform="translate(310.60,214.34) scale(1,1.0)" font-size="5.7" text-anchor="middle" fill="#111" font-weight="normal" font-style="normal" >0 (30)</text>
<text transform="translate(364.60,164.49) scale(1,1.3)" font-size="5.35" text-anchor="end" fill="#333" stroke="#333" stroke-width="0.1" font-weight="normal" font-style="normal" >0.00</text>
<text transform="translate(364.60,130.69) scale(1,1.3)" font-size="5.35" text-anchor="end" fill="#333" stroke="#333" stroke-width="0.1" font-weight="normal" font-style="normal" >0.25</text>
<text transform="translate(364.60,96.89) scale(1,1.3)" font-size="5.35" text-anchor="end" fill="#333" stroke="#333" stroke-width="0.1" font-weight="normal" font-style="normal" >0.50</text>
<text transform="translate(364.60,63.09) scale(1,1.3)" font-size="5.35" text-anchor="end" fill="#333" stroke="#333" stroke-width="0.1" font-weight="normal" font-style="normal" >0.75</text>
<text transform="translate(364.60,29.29) scale(1,1.3)" font-size="5.35" text-anchor="end" fill="#333" stroke="#333" stroke-width="0.1" font-weight="normal" font-style="normal" >1.00</text>
<text transform="translate(376.40,176.59) scale(1,1.3)" font-size="5.35" text-anchor="middle" fill="#333" stroke="#333" stroke-width="0.1" font-weight="normal" font-style="normal" >0</text>
<text transform="translate(423.25,176.59) scale(1,1.3)" font-size="5.35" text-anchor="middle" fill="#333" stroke="#333" stroke-width="0.1" font-weight="normal" font-style="normal" >500</text>
<text transform="translate(470.10,176.59) scale(1,1.3)" font-size="5.35" text-anchor="middle" fill="#333" stroke="#333" stroke-width="0.1" font-weight="normal" font-style="normal" >1000</text>
<text transform="translate(516.95,176.59) scale(1,1.3)" font-size="5.35" text-anchor="middle" fill="#333" stroke="#333" stroke-width="0.1" font-weight="normal" font-style="normal" >1500</text>
<text transform="translate(563.80,176.59) scale(1,1.3)" font-size="5.35" text-anchor="middle" fill="#333" stroke="#333" stroke-width="0.1" font-weight="normal" font-style="normal" >2000</text>
<text transform="translate(470.10,183.81) scale(1,1.2)" font-size="6.55" text-anchor="middle" fill="#222" font-weight="normal" font-style="normal" >Overall survival (days)</text>
<text transform="translate(347.2,94.5) rotate(-90) scale(1,1.0)" font-size="6.50" text-anchor="middle" fill="#222">Survival probability</text>
<text transform="translate(379.60,137.78) scale(1,1.2)" font-size="6.7" text-anchor="start" fill="#111" font-weight="normal" font-style="normal" >p&lt;0.001</text>
<text transform="translate(492.60,66.02) scale(1,1.2)" font-size="4.7" text-anchor="start" fill="#444" font-weight="normal" font-style="normal" >U (median= 456 days)</text>
<text transform="translate(492.60,73.92) scale(1,1.2)" font-size="4.7" text-anchor="start" fill="#444" font-weight="normal" font-style="normal" >M (median= 608 days)</text>
<text transform="translate(341.60,9.60) scale(1,1.05)" font-size="12.8" text-anchor="start" fill="#000" font-weight="bold" font-style="normal" >b</text>
<text transform="translate(461.70,9.40) scale(1,0.97)" font-size="10.5" text-anchor="middle" fill="#000" font-weight="bold" font-style="normal" >all patients</text>
<text transform="translate(367.20,195.82) scale(1,1.2)" font-size="7.5" text-anchor="start" fill="#222" font-weight="normal" font-style="normal" >Number at risk (number censored)</text>
<text transform="translate(376.40,210.52) scale(1,1.0)" font-size="5.93" text-anchor="middle" fill="#111" font-weight="normal" font-style="normal" >189 (0)</text>
<text transform="translate(423.25,210.52) scale(1,1.0)" font-size="5.93" text-anchor="middle" fill="#111" font-weight="normal" font-style="normal" >57 (35)</text>
<text transform="translate(470.10,210.52) scale(1,1.0)" font-size="5.93" text-anchor="middle" fill="#111" font-weight="normal" font-style="normal" >6 (46)</text>
<text transform="translate(516.95,210.52) scale(1,1.0)" font-size="5.93" text-anchor="middle" fill="#111" font-weight="normal" font-style="normal" >2 (47)</text>
<text transform="translate(563.80,210.52) scale(1,1.0)" font-size="5.93" text-anchor="middle" fill="#111" font-weight="normal" font-style="normal" >0 (49)</text>
<text transform="translate(376.40,224.02) scale(1,1.0)" font-size="5.93" text-anchor="middle" fill="#111" font-weight="normal" font-style="normal" >147 (0)</text>
<text transform="translate(423.25,224.02) scale(1,1.0)" font-size="5.93" text-anchor="middle" fill="#111" font-weight="normal" font-style="normal" >69 (30)</text>
<text transform="translate(470.10,224.02) scale(1,1.0)" font-size="5.93" text-anchor="middle" fill="#111" font-weight="normal" font-style="normal" >18 (52)</text>
<text transform="translate(516.95,224.02) scale(1,1.0)" font-size="5.93" text-anchor="middle" fill="#111" font-weight="normal" font-style="normal" >1 (59)</text>
<text transform="translate(563.80,224.02) scale(1,1.0)" font-size="5.93" text-anchor="middle" fill="#111" font-weight="normal" font-style="normal" >0 (60)</text>
<text transform="translate(21.00,420.28) scale(1,1.3)" font-size="4.9" text-anchor="end" fill="#333" stroke="#333" stroke-width="0.1" font-weight="normal" font-style="normal" >0.00</text>
<text transform="translate(21.00,385.71) scale(1,1.3)" font-size="4.9" text-anchor="end" fill="#333" stroke="#333" stroke-width="0.1" font-weight="normal" font-style="normal" >0.25</text>
<text transform="translate(21.00,351.13) scale(1,1.3)" font-size="4.9" text-anchor="end" fill="#333" stroke="#333" stroke-width="0.1" font-weight="normal" font-style="normal" >0.50</text>
<text transform="translate(21.00,316.56) scale(1,1.3)" font-size="4.9" text-anchor="end" fill="#333" stroke="#333" stroke-width="0.1" font-weight="normal" font-style="normal" >0.75</text>
<text transform="translate(21.00,281.98) scale(1,1.3)" font-size="4.9" text-anchor="end" fill="#333" stroke="#333" stroke-width="0.1" font-weight="normal" font-style="normal" >1.00</text>
<text transform="translate(32.80,431.78) scale(1,1.3)" font-size="4.9" text-anchor="middle" fill="#333" stroke="#333" stroke-width="0.1" font-weight="normal" font-style="normal" >0</text>
<text transform="translate(76.90,431.78) scale(1,1.3)" font-size="4.9" text-anchor="middle" fill="#333" stroke="#333" stroke-width="0.1" font-weight="normal" font-style="normal" >500</text>
<text transform="translate(121.00,431.78) scale(1,1.3)" font-size="4.9" text-anchor="middle" fill="#333" stroke="#333" stroke-width="0.1" font-weight="normal" font-style="normal" >1000</text>
<text transform="translate(165.10,431.78) scale(1,1.3)" font-size="4.9" text-anchor="middle" fill="#333" stroke="#333" stroke-width="0.1" font-weight="normal" font-style="normal" >1500</text>
<text transform="translate(209.20,431.78) scale(1,1.3)" font-size="4.9" text-anchor="middle" fill="#333" stroke="#333" stroke-width="0.1" font-weight="normal" font-style="normal" >2000</text>
<text transform="translate(121.10,438.64) scale(1,1.03)" font-size="6.07" text-anchor="middle" fill="#222" font-weight="normal" font-style="normal" >Overall survival (days)</text>
<text transform="translate(5.3,349.0) rotate(-90) scale(1,1.03)" font-size="6.31" text-anchor="middle" fill="#222">Survival probability</text>
<text transform="translate(36.00,392.77) scale(1,1.03)" font-size="6.15" text-anchor="start" fill="#111" font-weight="normal" font-style="normal" >p = 0.7</text>
<text transform="translate(133.70,319.73) scale(1,1.03)" font-size="4.43" text-anchor="start" fill="#444" font-weight="normal" font-style="normal" >EGFRvIII- (median= 450 days)</text>
<text transform="translate(133.70,327.23) scale(1,1.03)" font-size="4.43" text-anchor="start" fill="#444" font-weight="normal" font-style="normal" >EGFRvIII+ (median= 487 days)</text>
<text transform="translate(1.40,258.60) scale(1,1.05)" font-size="12.6" text-anchor="start" fill="#000" font-weight="bold" font-style="normal" >c</text>
<text transform="translate(81.7,258.2) scale(1,1.08)" font-size="10.6" font-weight="bold" fill="#000"><tspan font-style="italic">MGMT</tspan>-U</text>
<text transform="translate(23.90,449.97) scale(1,1.03)" font-size="6.96" text-anchor="start" fill="#222" font-weight="normal" font-style="normal" >Number at risk (number censored)</text>
<text transform="translate(32.80,460.60) scale(1,1.03)" font-size="5.7" text-anchor="middle" fill="#111" font-weight="normal" font-style="normal" >140 (0)</text>
<text transform="translate(76.90,460.60) scale(1,1.03)" font-size="5.7" text-anchor="middle" fill="#111" font-weight="normal" font-style="normal" >40 (26)</text>
<text transform="translate(121.00,460.60) scale(1,1.03)" font-size="5.7" text-anchor="middle" fill="#111" font-weight="normal" font-style="normal" >4 (35)</text>
<text transform="translate(165.10,460.60) scale(1,1.03)" font-size="5.7" text-anchor="middle" fill="#111" font-weight="normal" font-style="normal" >1 (36)</text>
<text transform="translate(209.20,460.60) scale(1,1.03)" font-size="5.7" text-anchor="middle" fill="#111" font-weight="normal" font-style="normal" >0 (37)</text>
<text transform="translate(32.80,468.90) scale(1,1.03)" font-size="5.7" text-anchor="middle" fill="#111" font-weight="normal" font-style="normal" >49 (0)</text>
<text transform="translate(76.90,468.90) scale(1,1.03)" font-size="5.7" text-anchor="middle" fill="#111" font-weight="normal" font-style="normal" >17 (9)</text>
<text transform="translate(121.00,468.90) scale(1,1.03)" font-size="5.7" text-anchor="middle" fill="#111" font-weight="normal" font-style="normal" >2 (11)</text>
<text transform="translate(165.10,468.90) scale(1,1.03)" font-size="5.7" text-anchor="middle" fill="#111" font-weight="normal" font-style="normal" >1 (11)</text>
<text transform="translate(209.20,468.90) scale(1,1.03)" font-size="5.7" text-anchor="middle" fill="#111" font-weight="normal" font-style="normal" >0 (12)</text>
<text transform="translate(255.90,421.18) scale(1,1.3)" font-size="4.9" text-anchor="end" fill="#333" stroke="#333" stroke-width="0.1" font-weight="normal" font-style="normal" >0.00</text>
<text transform="translate(255.90,387.38) scale(1,1.3)" font-size="4.9" text-anchor="end" fill="#333" stroke="#333" stroke-width="0.1" font-weight="normal" font-style="normal" >0.25</text>
<text transform="translate(255.90,353.58) scale(1,1.3)" font-size="4.9" text-anchor="end" fill="#333" stroke="#333" stroke-width="0.1" font-weight="normal" font-style="normal" >0.50</text>
<text transform="translate(255.90,319.78) scale(1,1.3)" font-size="4.9" text-anchor="end" fill="#333" stroke="#333" stroke-width="0.1" font-weight="normal" font-style="normal" >0.75</text>
<text transform="translate(255.90,285.98) scale(1,1.3)" font-size="4.9" text-anchor="end" fill="#333" stroke="#333" stroke-width="0.1" font-weight="normal" font-style="normal" >1.00</text>
<text transform="translate(267.10,432.28) scale(1,1.3)" font-size="4.9" text-anchor="middle" fill="#333" stroke="#333" stroke-width="0.1" font-weight="normal" font-style="normal" >0</text>
<text transform="translate(310.45,432.28) scale(1,1.3)" font-size="4.9" text-anchor="middle" fill="#333" stroke="#333" stroke-width="0.1" font-weight="normal" font-style="normal" >500</text>
<text transform="translate(353.80,432.28) scale(1,1.3)" font-size="4.9" text-anchor="middle" fill="#333" stroke="#333" stroke-width="0.1" font-weight="normal" font-style="normal" >1000</text>
<text transform="translate(397.15,432.28) scale(1,1.3)" font-size="4.9" text-anchor="middle" fill="#333" stroke="#333" stroke-width="0.1" font-weight="normal" font-style="normal" >1500</text>
<text transform="translate(440.50,432.28) scale(1,1.3)" font-size="4.9" text-anchor="middle" fill="#333" stroke="#333" stroke-width="0.1" font-weight="normal" font-style="normal" >2000</text>
<text transform="translate(354.10,439.24) scale(1,1.03)" font-size="6.07" text-anchor="middle" fill="#222" font-weight="normal" font-style="normal" >Overall survival (days)</text>
<text transform="translate(240.5,351.0) rotate(-90) scale(1,1.03)" font-size="6.31" text-anchor="middle" fill="#222">Survival probability</text>
<text transform="translate(270.80,394.57) scale(1,1.03)" font-size="6.15" text-anchor="start" fill="#111" font-weight="normal" font-style="normal" >p = 0.05</text>
<text transform="translate(366.00,322.63) scale(1,1.03)" font-size="4.43" text-anchor="start" fill="#444" font-weight="normal" font-style="normal" >EGFRvIII- (median= 608 days)</text>
<text transform="translate(366.00,330.03) scale(1,1.03)" font-size="4.43" text-anchor="start" fill="#444" font-weight="normal" font-style="normal" >EGFRvIII+ (median= 791 days)</text>
<text transform="translate(236.50,258.70) scale(1,1.05)" font-size="12.6" text-anchor="start" fill="#000" font-weight="bold" font-style="normal" >d</text>
<text transform="translate(317.8,258.3) scale(1,1.08)" font-size="10.6" font-weight="bold" fill="#000"><tspan font-style="italic">MGMT</tspan>-M</text>
<text transform="translate(258.90,450.27) scale(1,1.03)" font-size="6.96" text-anchor="start" fill="#222" font-weight="normal" font-style="normal" >Number at risk (number censored)</text>
<text transform="translate(267.10,461.10) scale(1,1.03)" font-size="5.7" text-anchor="middle" fill="#111" font-weight="normal" font-style="normal" >104 (0)</text>
<text transform="translate(310.45,461.10) scale(1,1.03)" font-size="5.7" text-anchor="middle" fill="#111" font-weight="normal" font-style="normal" >44 (22)</text>
<text transform="translate(353.80,461.10) scale(1,1.03)" font-size="5.7" text-anchor="middle" fill="#111" font-weight="normal" font-style="normal" >9 (38)</text>
<text transform="translate(397.15,461.10) scale(1,1.03)" font-size="5.7" text-anchor="middle" fill="#111" font-weight="normal" font-style="normal" >0 (42)</text>
<text transform="translate(440.50,461.10) scale(1,1.03)" font-size="5.7" text-anchor="middle" fill="#111" font-weight="normal" font-style="normal" >0 (42)</text>
<text transform="translate(267.10,468.70) scale(1,1.03)" font-size="5.7" text-anchor="middle" fill="#111" font-weight="normal" font-style="normal" >43 (0)</text>
<text transform="translate(310.45,468.70) scale(1,1.03)" font-size="5.7" text-anchor="middle" fill="#111" font-weight="normal" font-style="normal" >25 (8)</text>
<text transform="translate(353.80,468.70) scale(1,1.03)" font-size="5.7" text-anchor="middle" fill="#111" font-weight="normal" font-style="normal" >9 (14)</text>
<text transform="translate(397.15,468.70) scale(1,1.03)" font-size="5.7" text-anchor="middle" fill="#111" font-weight="normal" font-style="normal" >1 (17)</text>
<text transform="translate(440.50,468.70) scale(1,1.03)" font-size="5.7" text-anchor="middle" fill="#111" font-weight="normal" font-style="normal" >0 (18)</text>
<text transform="translate(488.90,419.48) scale(1,1.3)" font-size="4.9" text-anchor="end" fill="#333" stroke="#333" stroke-width="0.1" font-weight="normal" font-style="normal" >0.00</text>
<text transform="translate(488.90,385.13) scale(1,1.3)" font-size="4.9" text-anchor="end" fill="#333" stroke="#333" stroke-width="0.1" font-weight="normal" font-style="normal" >0.25</text>
<text transform="translate(488.90,350.78) scale(1,1.3)" font-size="4.9" text-anchor="end" fill="#333" stroke="#333" stroke-width="0.1" font-weight="normal" font-style="normal" >0.50</text>
<text transform="translate(488.90,316.43) scale(1,1.3)" font-size="4.9" text-anchor="end" fill="#333" stroke="#333" stroke-width="0.1" font-weight="normal" font-style="normal" >0.75</text>
<text transform="translate(488.90,282.08) scale(1,1.3)" font-size="4.9" text-anchor="end" fill="#333" stroke="#333" stroke-width="0.1" font-weight="normal" font-style="normal" >1.00</text>
<text transform="translate(500.50,430.58) scale(1,1.3)" font-size="4.9" text-anchor="middle" fill="#333" stroke="#333" stroke-width="0.1" font-weight="normal" font-style="normal" >0</text>
<text transform="translate(544.47,430.58) scale(1,1.3)" font-size="4.9" text-anchor="middle" fill="#333" stroke="#333" stroke-width="0.1" font-weight="normal" font-style="normal" >500</text>
<text transform="translate(588.44,430.58) scale(1,1.3)" font-size="4.9" text-anchor="middle" fill="#333" stroke="#333" stroke-width="0.1" font-weight="normal" font-style="normal" >1000</text>
<text transform="translate(632.41,430.58) scale(1,1.3)" font-size="4.9" text-anchor="middle" fill="#333" stroke="#333" stroke-width="0.1" font-weight="normal" font-style="normal" >1500</text>
<text transform="translate(676.38,430.58) scale(1,1.3)" font-size="4.9" text-anchor="middle" fill="#333" stroke="#333" stroke-width="0.1" font-weight="normal" font-style="normal" >2000</text>
<text transform="translate(588.20,437.54) scale(1,1.03)" font-size="6.07" text-anchor="middle" fill="#222" font-weight="normal" font-style="normal" >Overall survival (days)</text>
<text transform="translate(473.6,348.0) rotate(-90) scale(1,1.03)" font-size="6.31" text-anchor="middle" fill="#222">Survival probability</text>
<text transform="translate(503.50,392.17) scale(1,1.03)" font-size="6.15" text-anchor="start" fill="#111" font-weight="normal" font-style="normal" >p = 0.02</text>
<text transform="translate(601.00,319.33) scale(1,1.03)" font-size="4.43" text-anchor="start" fill="#444" font-weight="normal" font-style="normal" >EGFRvIII- (median= 542 days)</text>
<text transform="translate(601.00,327.23) scale(1,1.03)" font-size="4.43" text-anchor="start" fill="#444" font-weight="normal" font-style="normal" >EGFRvIII+ (median= 791 days)</text>
<text transform="translate(468.70,258.60) scale(1,1.05)" font-size="12.6" text-anchor="start" fill="#000" font-weight="bold" font-style="normal" >e</text>
<text transform="translate(531.7,258.1) scale(1,1.08)" font-size="10.75" font-weight="bold" fill="#000"><tspan font-style="italic">EGFR</tspan>ampl./<tspan font-style="italic">MGMT</tspan>-M</text>
<text transform="translate(491.80,448.97) scale(1,1.03)" font-size="6.96" text-anchor="start" fill="#222" font-weight="normal" font-style="normal" >Number at risk (number censored)</text>
<text transform="translate(500.50,459.70) scale(1,1.03)" font-size="5.7" text-anchor="middle" fill="#111" font-weight="normal" font-style="normal" >42 (0)</text>
<text transform="translate(544.47,459.70) scale(1,1.03)" font-size="5.7" text-anchor="middle" fill="#111" font-weight="normal" font-style="normal" >13 (12)</text>
<text transform="translate(588.44,459.70) scale(1,1.03)" font-size="5.7" text-anchor="middle" fill="#111" font-weight="normal" font-style="normal" >3 (17)</text>
<text transform="translate(632.41,459.70) scale(1,1.03)" font-size="5.7" text-anchor="middle" fill="#111" font-weight="normal" font-style="normal" >0 (17)</text>
<text transform="translate(676.38,459.70) scale(1,1.03)" font-size="5.7" text-anchor="middle" fill="#111" font-weight="normal" font-style="normal" >0 (17)</text>
<text transform="translate(500.50,467.90) scale(1,1.03)" font-size="5.7" text-anchor="middle" fill="#111" font-weight="normal" font-style="normal" >37 (0)</text>
<text transform="translate(544.47,467.90) scale(1,1.03)" font-size="5.7" text-anchor="middle" fill="#111" font-weight="normal" font-style="normal" >21 (8)</text>
<text transform="translate(588.44,467.90) scale(1,1.03)" font-size="5.7" text-anchor="middle" fill="#111" font-weight="normal" font-style="normal" >7 (14)</text>
<text transform="translate(632.41,467.90) scale(1,1.03)" font-size="5.7" text-anchor="middle" fill="#111" font-weight="normal" font-style="normal" >1 (17)</text>
<text transform="translate(676.38,467.90) scale(1,1.03)" font-size="5.7" text-anchor="middle" fill="#111" font-weight="normal" font-style="normal" >0 (18)</text>
</svg>
</body></html>
